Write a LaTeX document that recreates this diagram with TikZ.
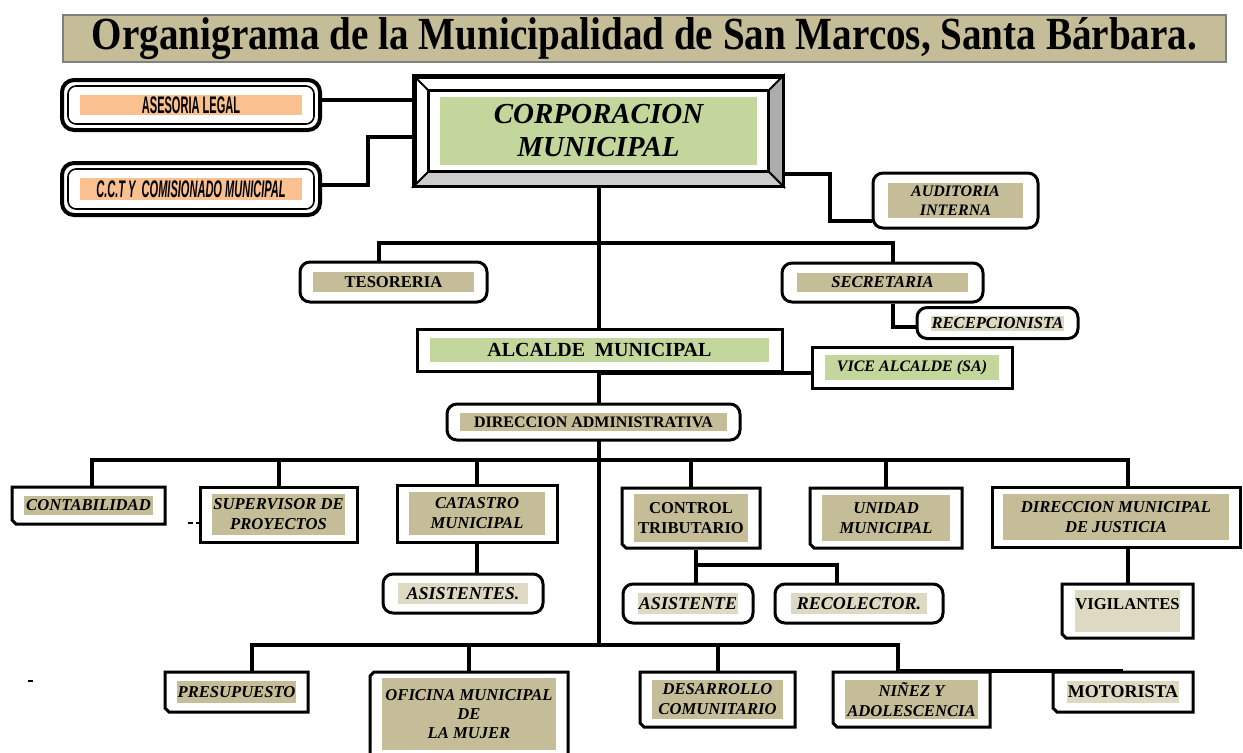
\documentclass[tikz,border=0pt]{standalone}
\usepackage{fontspec}
\setmainfont{Liberation Serif}
\setsansfont{Liberation Sans}
\usetikzlibrary{shapes.misc,backgrounds,calc}

\definecolor{tanband}{HTML}{C4BD97}
\definecolor{paleband}{HTML}{DDD9C3}
\definecolor{greenband}{HTML}{C3D69B}
\definecolor{peachband}{HTML}{FAC090}

\tikzset{
  box/.style={draw, line width=1.5pt, fill=white, inner sep=0pt, align=center,
    font=\bfseries\itshape\fontsize{8.3}{10}\selectfont},
  upright/.style={font=\bfseries\fontsize{8.3}{10}\selectfont},
  roundbox/.style={box, rounded corners=5pt},
  curlbox/.style={box, chamfered rectangle, chamfered rectangle xsep=1pt,
    chamfered rectangle ysep=1pt, chamfered rectangle corners=south west},
  dims/.style 2 args={minimum width=#1, minimum height=#2},
  band/.style n args={3}{path picture={\fill[#1, sharp corners]
    ([shift={(#2,-#3)}]path picture bounding box.north west) rectangle
    ([shift={(-#2,#3)}]path picture bounding box.south east);}},
  dblbox/.style={draw, line width=2pt, rounded corners=6pt, fill=white, inner sep=0pt,
    font=\sffamily\bfseries\fontsize{12}{12}\selectfont,
    path picture={
      \fill[peachband, sharp corners] ([shift={(9pt,-7.5pt)}]path picture bounding box.north west)
        rectangle ([shift={(-9pt,7.5pt)}]path picture bounding box.south east);
      \draw[line width=0.8pt, rounded corners=4pt] ([shift={(3pt,-3pt)}]path picture bounding box.north west)
        rectangle ([shift={(-3pt,3pt)}]path picture bounding box.south east);}},
  link/.style={line width=2pt},
}

\begin{document}
\begin{tikzpicture}[x=0.5pt,y=-0.5pt]
  \useasboundingbox (0,0) rectangle (1243,752);

  % Title
  \node[draw=gray, line width=0.8pt, fill=tanband, dims={581.5pt}{23.5pt}, inner sep=0pt] (title) at (644.5,38.5)
    {\scalebox{0.85}[1]{\bfseries\fontsize{23}{23}\selectfont Organigrama de la Municipalidad de San Marcos, Santa Bárbara.}};

  % Advisors on the left
  \node[dblbox, dims={129pt}{25pt}] (legal) at (191,105) {\scalebox{0.46}[1]{ASESORIA LEGAL}};
  \node[dblbox, dims={129pt}{26pt}] (cct) at (191,189) {\scalebox{0.46}[1]{\itshape C.C.T Y\ \ COMISIONADO MUNICIPAL}};

  % Corporacion with bevelled frame
  \node[box, dims={183.5pt}{54pt}, band={greenband}{12.5pt}{10pt},
    font=\bfseries\itshape\fontsize{14.5}{16.5}\selectfont] (corp) at (598.5,131) {CORPORACION\\MUNICIPAL};
  \coordinate (cnw) at ([shift={(7.5pt,-7.5pt)}]corp.north west);
  \coordinate (cne) at ([shift={(-7.5pt,-7.5pt)}]corp.north east);
  \coordinate (cse) at ([shift={(-7.5pt,7.5pt)}]corp.south east);
  \coordinate (csw) at ([shift={(7.5pt,7.5pt)}]corp.south west);
  \filldraw[fill=gray!65, line width=1pt] (corp.north east) -- (cne) -- (cse) -- (corp.south east) -- cycle;
  \filldraw[fill=gray!40, line width=1pt] (corp.south west) -- (csw) -- (cse) -- (corp.south east) -- cycle;
  \draw[line width=1pt] (corp.north west) -- (cnw);
  \draw[line width=1.5pt] (cnw) rectangle (cse);
  \draw[line width=1.5pt] (corp.north west) rectangle (corp.south east);

  % Top level offices
  \node[roundbox, dims={82.5pt}{27.5pt}, band={tanband}{7.5pt}{5pt}, font=\bfseries\itshape\fontsize{8}{9.5}\selectfont]
    (audit) at (955.5,200.5) {AUDITORIA\\INTERNA};
  \node[roundbox, upright, dims={93.5pt}{20pt}, band={tanband}{6.5pt}{5pt}] (teso) at (393.5,282) {TESORERIA};
  \node[roundbox, dims={100.5pt}{19.5pt}, band={tanband}{7.5pt}{5pt}] (secr) at (882.5,282.5) {SECRETARIA};
  \node[roundbox, dims={80.5pt}{15.5pt}, band={paleband}{7pt}{4pt}] (recep) at (997.5,323) {RECEPCIONISTA};
  \node[box, upright, dims={182.5pt}{21pt}, band={greenband}{6.5pt}{4.5pt}, font=\bfseries\fontsize{10}{10}\selectfont]
    (alc) at (599.5,350) {ALCALDE\ \ MUNICIPAL};
  \node[box, dims={100pt}{20.5pt}, band={greenband}{6.5pt}{4pt}, font=\bfseries\itshape\fontsize{8}{10}\selectfont]
    (vice) at (912,367.5) {VICE ALCALDE (SA)};
  \node[roundbox, dims={146.5pt}{18pt}, band={tanband}{6.5pt}{4.5pt}, font=\bfseries\fontsize{8}{10}\selectfont]
    (dir) at (593.5,422) {DIRECCION ADMINISTRATIVA};

  % Departments
  \node[curlbox, dims={76.5pt}{18.5pt}, band={tanband}{6pt}{4.5pt}] (conta) at (88.5,505.5) {CONTABILIDAD};
  \node[box, dims={78.5pt}{27.5pt}, band={tanband}{6pt}{3.5pt}] (super) at (278.5,514.5) {SUPERVISOR DE\\PROYECTOS};
  \node[box, dims={80pt}{28.5pt}, band={tanband}{6pt}{3.5pt}] (catas) at (477,513.5) {CATASTRO\\MUNICIPAL};
  \node[roundbox, dims={80pt}{19.5pt}, band={paleband}{7.5pt}{4.5pt}, font=\bfseries\itshape\fontsize{9}{10}\selectfont]
    (asis1) at (463,593.5) {ASISTENTES.};
  \node[curlbox, upright, dims={69pt}{30pt}, band={tanband}{6pt}{3pt}] (control) at (691,518) {CONTROL\\TRIBUTARIO};
  \node[roundbox, dims={65pt}{19.5pt}, band={paleband}{7.5pt}{4.5pt}, font=\bfseries\itshape\fontsize{9}{10}\selectfont]
    (asis2) at (688,603.5) {ASISTENTE};
  \node[roundbox, dims={84pt}{19.5pt}, band={paleband}{8pt}{4.5pt}, font=\bfseries\itshape\fontsize{9}{10}\selectfont]
    (recol) at (859,603.5) {RECOLECTOR.};
  \node[curlbox, dims={76pt}{30pt}, band={tanband}{6pt}{3.5pt}] (unidad) at (886,518) {UNIDAD\\MUNICIPAL};
  \node[box, dims={124pt}{30pt}, band={tanband}{5.5pt}{3.5pt}] (justicia) at (1116,517) {DIRECCION MUNICIPAL\\DE JUSTICIA};
  \node[curlbox, upright, dims={65.5pt}{27pt}, band={paleband}{6.5pt}{3pt}] (vigil) at (1127.5,611) {\raisebox{7pt}{VIGILANTES}};

  % Lower row
  \node[curlbox, dims={71.5pt}{20pt}, band={tanband}{6pt}{4.5pt}] (presu) at (236.5,692) {PRESUPUESTO};
  \node[curlbox, chamfered rectangle corners=north west, dims={99pt}{42pt}, band={tanband}{6pt}{3pt},
    font=\bfseries\itshape\fontsize{8.3}{9.5}\selectfont] (ofic) at (469,714) {OFICINA MUNICIPAL\\DE\\LA MUJER};
  \node[curlbox, dims={77.5pt}{27.5pt}, band={tanband}{6pt}{4pt}] (desa) at (717.5,699.5) {DESARROLLO\\COMUNITARIO};
  \node[curlbox, dims={78.5pt}{27.5pt}, band={tanband}{6pt}{4pt}] (ninez) at (911.5,699.5) {NIÑEZ Y\\ADOLESCENCIA};
  \node[curlbox, upright, dims={70pt}{20pt}, band={paleband}{7pt}{4.5pt}, font=\bfseries\fontsize{9}{10}\selectfont]
    (moto) at (1123,692) {MOTORISTA};

  % Joints of the connectors
  \coordinate (cctj) at (368,137);
  \coordinate (auditj) at (830,221);
  \coordinate (ubar) at (598,243);
  \coordinate (mbar) at (598,460);
  \coordinate (cbar) at (696,565);
  \coordinate (bbarL) at (252,645);
  \coordinate (bbarR) at (898,645);

  % Connectors
  \begin{scope}[on background layer]
  \begin{scope}[link]
    \draw (corp.south) -- (corp.south |- bbarL);
    \draw ($(legal.east)+(0,-5)$) -- ($(legal.east -| corp.west)+(0,-5)$);
    \draw ($(cct.east)+(0,-4)$) -| (cctj) -- (cctj -| corp.west);
    \draw ($(corp.south east)+(0,-13)$) -| (auditj) -- (auditj -| audit.west);
    \draw ($(teso.north)+(-15,0)$) |- (ubar) -| ($(secr.north)+(10,0)$);
    \draw ($(secr.south)+(10,0)$) |- ($(recep.west)+(0,4)$);
    \draw (alc.south -| corp.south) -- (alc.south -| vice.west);
    \draw ($(conta.north)+(3,0)$) |- (mbar) -| (vigil.north |- justicia.north);
    \foreach \b in {super,catas,control,unidad}
      \draw (\b.north) -- (\b.north |- mbar);
    \draw (catas.south) -- (catas.south |- asis1.north);
    \draw (control.south -| cbar) -- (cbar |- asis2.north);
    \draw (cbar) -| ($(recol.north)+(-22,0)$);
    \draw (vigil.north |- justicia.south) -- (vigil.north);
    \draw (bbarL |- presu.north) -- (bbarL) -- (bbarR) |- (moto.north);
    \foreach \b in {ofic,desa}
      \draw (\b.north) -- (\b.north |- bbarL);
  \end{scope}
  \end{scope}

  % Stray marks
  \draw[line width=1pt, dash pattern=on 2.5pt off 1.5pt] (188,523) -- (199,523);
  \draw[line width=1pt] (28,681) -- (33,681);
\end{tikzpicture}
\end{document}
